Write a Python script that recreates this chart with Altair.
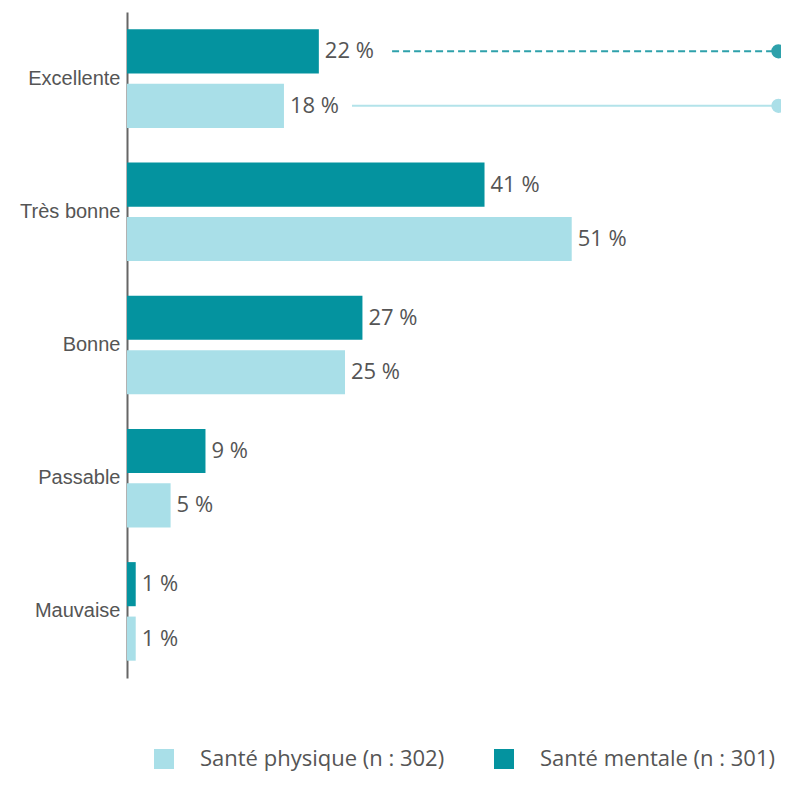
import altair as alt
import pandas as pd

categories = ["Excellente", "Très bonne", "Bonne", "Passable", "Mauvaise"]
mentale = [22, 41, 27, 9, 1]
physique = [18, 51, 25, 5, 1]
s_ment = "Santé mentale (n : 301)"
s_phys = "Santé physique (n : 302)"

dark = "#04939f"
light = "#a9dfe8"

rows = []
for c, m, p in zip(categories, mentale, physique):
    rows.append({"cat": c, "series": s_ment, "value": m, "label": f"{m} %"})
    rows.append({"cat": c, "series": s_phys, "value": p, "label": f"{p} %"})
df = pd.DataFrame(rows)

# annotation leader lines (Excellente only)
annot = pd.DataFrame({
    "cat": ["Excellente", "Excellente"],
    "series": [s_ment, s_phys],
    "x1": [30.4, 25.8],
    "x2": [74.7, 74.7],
    "kind": ["dash", "solid"],
})

y_enc = alt.Y("cat:N", sort=categories,
              scale=alt.Scale(paddingInner=0.26, paddingOuter=0.13),
              axis=alt.Axis(title=None, ticks=False, labelPadding=7, labelFontSize=20,
                            labelFont="Liberation Sans", labelColor="#555555",
                            domainColor="#666666", domainWidth=2, grid=False))
yoff = alt.YOffset("series:N", sort=[s_ment, s_phys],
                   scale=alt.Scale(paddingInner=0.19, paddingOuter=0))
x_scale = alt.Scale(domain=[0, 75], clamp=False, nice=False, zero=True)

color = alt.Color("series:N",
                  scale=alt.Scale(domain=[s_phys, s_ment], range=[light, dark]),
                  legend=alt.Legend(title=None, orient="none", legendX=26, legendY=736,
                                    direction="horizontal", symbolType="square",
                                    symbolSize=400, symbolStrokeWidth=0,
                                    labelFontSize=22, labelFont="Open Sans",
                                    labelColor="#555555", labelOffset=25,
                                    columnPadding=48, labelLimit=400, padding=0))

base = alt.Chart(df)
bars = base.mark_bar().encode(
    y=y_enc, yOffset=yoff,
    x=alt.X("value:Q", scale=x_scale, axis=None),
    color=color,
)
labels = base.mark_text(align="left", baseline="middle", dx=6, fontSize=22,
                        font="Open Sans", color="#555555").encode(
    y=alt.Y("cat:N", sort=categories), yOffset=alt.YOffset("series:N", sort=[s_ment, s_phys]),
    x=alt.X("value:Q"),
    text="label:N",
)

ab = alt.Chart(annot)
dash_line = ab.transform_filter(alt.datum.kind == "dash").mark_rule(
    color="#2ea1ab", strokeWidth=2, strokeDash=[7, 4]).encode(
    y=alt.Y("cat:N", sort=categories), yOffset=alt.YOffset("series:N", sort=[s_ment, s_phys]),
    x="x1:Q", x2="x2:Q")
solid_line = ab.transform_filter(alt.datum.kind == "solid").mark_rule(
    color="#b3e3ea", strokeWidth=2).encode(
    y=alt.Y("cat:N", sort=categories), yOffset=alt.YOffset("series:N", sort=[s_ment, s_phys]),
    x="x1:Q", x2="x2:Q")
dots = ab.mark_point(filled=True, opacity=1, shape="circle").encode(
    y=alt.Y("cat:N", sort=categories), yOffset=alt.YOffset("series:N", sort=[s_ment, s_phys]),
    x="x2:Q",
    size=alt.value(200),
    fill=alt.Fill("kind:N", scale=alt.Scale(domain=["dash", "solid"], range=["#2ea1ab", "#abdfe8"]),
                  legend=None),
)

chart = alt.layer(bars, labels, dash_line, solid_line, dots).properties(
    width=654, height=666,
    background="white",
    autosize=alt.AutoSizeParams(type="none"),
    padding={"left": 119, "top": 4, "right": 0, "bottom": 96},
).configure_view(strokeWidth=0, stroke="transparent")

chart.save("out.html", embed_options={"renderer": "svg", "actions": False})
